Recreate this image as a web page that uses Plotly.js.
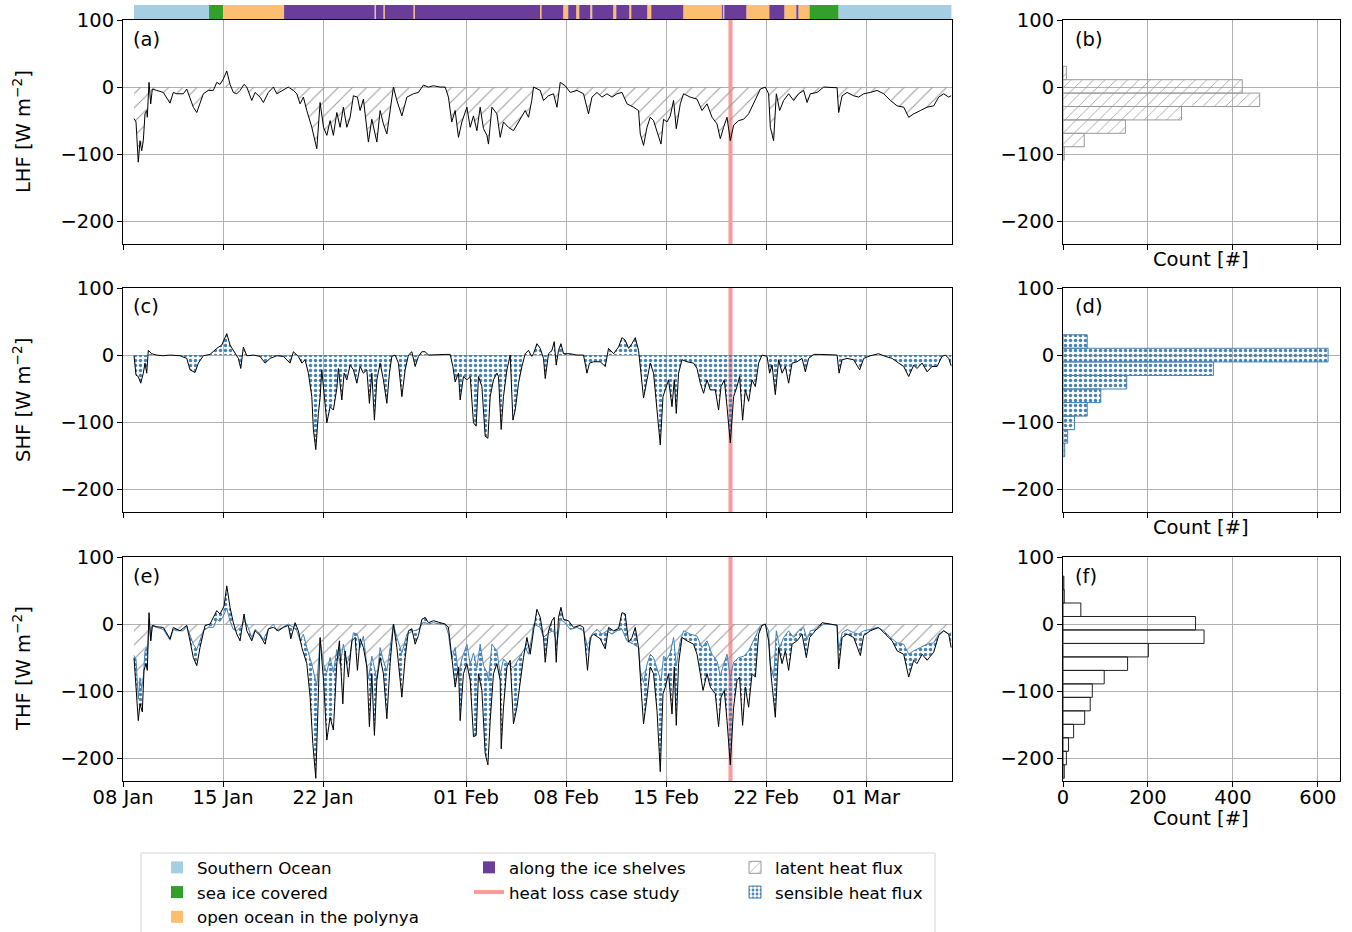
<!DOCTYPE html>
<html><head><meta charset="utf-8">
<script src="https://cdn.plot.ly/plotly-3.0.1.min.js"></script>
<style>html,body{margin:0;padding:0;background:#fff}#chart{width:1352px;height:932px}</style>
</head><body><div id="chart"></div>
<script>
// ---------- time reference (days since 08 Jan) ----------
const START = Date.UTC(2019, 0, 8);
function toDate(d){ return new Date(START + d*86400000).toISOString().replace('T',' ').slice(0,19); }

const tickDays   = [0, 7, 14, 24, 31, 38, 45, 52];
const tickLabels = ['08 Jan','15 Jan','22 Jan','01 Feb','08 Feb','15 Feb','22 Feb','01 Mar'];
const yTicks = [-200, -100, 0, 100];
const countTicks = [0, 200, 400, 600];
const caseStudyDay = 42.5;

// ---------- region strip ----------
const regionNames  = ['Southern Ocean','sea ice covered','open ocean in the polynya','along the ice shelves'];
const regionColors = ['#a6cee3','#33a02c','#fdbf6f','#6a3d9a'];
const segBounds = [0.77,6.02,7.00,11.27,17.60,17.70,18.22,18.32,20.32,20.42,
  29.18,29.28,30.80,31.15,31.71,31.92,32.69,32.83,34.30,34.51,
  35.42,35.56,36.68,36.96,39.20,41.90,41.97,42.07,43.61,45.22,
  46.27,47.11,47.25,48.02,50.05,57.96];
const segRegion = [0,1,2,3,2,3,2,3,2,3,2,3,2,3,2,3,2,3,2,3,2,3,2,3,2,3,2,3,2,3,2,3,2,1,0];

// ---------- latent heat flux ----------
const lhfDay = [0.77,0.91,1.07,1.19,1.31,1.42,1.54,1.66,1.70,1.82,
 1.94,2.05,2.36,2.82,3.29,3.52,3.76,4.22,4.46,4.69,
 4.92,5.16,5.39,5.62,5.97,6.32,6.56,6.79,7.02,7.26,
 7.49,7.72,7.96,8.19,8.47,8.66,9.01,9.24,9.59,9.82,
 10.17,10.52,10.76,11.22,11.57,11.92,12.16,12.39,12.62,12.86,
 13.21,13.56,13.79,14.03,14.26,14.49,14.72,14.96,15.19,15.42,
 15.66,15.89,16.12,16.40,16.59,16.82,17.17,17.41,17.76,17.99,
 18.22,18.46,18.69,18.92,19.16,19.51,19.86,20.32,20.67,21.02,
 21.37,21.72,22.19,22.54,22.77,23.00,23.24,23.47,23.71,24.06,
 24.29,24.52,24.76,24.99,25.22,25.46,25.57,25.81,26.16,26.39,
 26.62,26.97,27.32,27.79,28.14,28.37,28.60,28.72,29.19,29.42,
 29.77,30.12,30.36,30.59,30.94,31.29,31.76,32.22,32.57,32.81,
 33.16,33.51,33.86,34.21,34.56,34.91,35.26,35.72,36.07,36.19,
 36.42,36.66,36.89,37.12,37.36,37.64,37.82,38.06,38.29,38.52,
 38.71,38.99,39.22,39.69,40.16,40.51,40.86,41.21,41.56,41.79,
 42.02,42.26,42.49,42.72,43.07,43.42,43.77,44.12,44.59,44.94,
 45.17,45.29,45.52,45.71,45.94,46.22,46.57,46.92,47.27,47.62,
 47.86,48.09,48.56,49.02,49.49,49.96,50.07,50.31,50.66,51.12,
 51.47,51.82,52.29,52.76,53.22,53.69,54.16,54.62,54.97,55.32,
 55.79,56.25,56.72,57.07,57.42,57.77,57.94];
const lhfVal = [-47,-52,-112,-80,-95,-80,-40,-35,-45,7,
 -25,-3,-5,-8,-24,-8,-10,-10,-3,-15,
 -30,-38,-25,-10,-5,-5,7,4,12,24,
 4,-8,-10,-5,4,0,-20,-8,-15,-23,
 -8,0,-10,-5,0,-5,-10,-25,-15,-35,
 -60,-92,-23,-60,-72,-50,-72,-38,-60,-30,
 -60,-45,-13,-15,-35,-18,-82,-48,-82,-35,
 -55,-70,-35,0,-20,-43,-15,-10,-8,3,
 0,2,0,0,-15,-52,-35,-75,-52,-30,
 -60,-43,-65,-30,-62,-72,-85,-30,-40,-75,
 -52,-60,-65,-48,-35,-45,-20,0,-5,-20,
 -13,-10,-30,7,2,-8,-5,-10,-40,-15,
 -8,-15,-10,-15,-10,-8,-25,-30,-35,-70,
 -87,-60,-45,-50,-65,-85,-48,-52,-43,-20,
 -62,-25,-10,-15,-18,-35,-25,-45,-55,-77,
 -60,-45,-80,-57,-50,-48,-40,-25,-3,0,
 -10,-60,-80,-10,-35,-20,-10,-20,-10,-5,
 -23,-10,-8,0,0,-1,-38,-13,-8,-13,
 -15,-10,-8,-5,-10,-20,-28,-30,-45,-40,
 -35,-30,-28,-15,-10,-15,-13];

// ---------- sensible heat flux ----------
const shfDay = [0.77,0.91,1.07,1.24,1.42,1.54,1.66,1.77,2.01,2.36,
 2.82,3.29,3.99,4.46,4.69,5.04,5.27,5.62,6.09,6.56,
 6.91,7.26,7.49,7.84,8.07,8.24,8.42,8.66,9.12,9.59,
 9.94,10.29,10.76,11.22,11.69,11.92,12.27,12.51,12.74,12.97,
 13.21,13.32,13.49,13.67,13.79,13.91,14.07,14.26,14.49,14.72,
 14.96,15.07,15.31,15.47,15.66,15.89,16.12,16.36,16.59,16.82,
 17.06,17.24,17.41,17.59,17.76,17.99,18.22,18.46,18.64,18.81,
 19.04,19.27,19.51,19.74,19.97,20.21,20.44,20.67,20.91,21.14,
 21.37,21.96,22.54,22.89,23.08,23.24,23.47,23.59,23.82,24.06,
 24.29,24.52,24.71,24.87,25.11,25.34,25.53,25.69,25.92,26.16,
 26.27,26.46,26.62,26.86,27.09,27.28,27.44,27.56,27.67,27.91,
 28.14,28.37,28.60,28.72,28.96,29.19,29.42,29.54,29.77,30.01,
 30.17,30.31,30.47,30.64,30.82,31.29,31.76,32.22,32.46,32.64,
 32.92,33.39,33.74,33.97,34.32,34.67,34.91,35.14,35.37,35.61,
 35.84,36.07,36.31,36.42,36.66,36.89,37.12,37.36,37.59,37.78,
 37.94,38.17,38.41,38.57,38.71,38.87,39.11,39.46,39.92,40.16,
 40.39,40.62,40.86,41.09,41.44,41.67,41.84,42.07,42.26,42.49,
 42.72,42.96,43.14,43.35,43.54,43.77,44.01,44.24,44.47,44.71,
 45.06,45.24,45.41,45.64,45.87,46.11,46.34,46.57,46.81,47.16,
 47.51,47.74,47.97,48.32,48.79,49.49,49.96,50.10,50.31,50.66,
 51.12,51.54,51.82,52.29,52.87,53.34,53.81,54.27,54.62,54.97,
 55.32,55.55,55.91,56.26,56.60,56.96,57.30,57.54,57.77,57.94];
const shfVal = [-1,-30,-32,-42,-27,-12,-27,7,2,0,
 -1,0,-1,-5,-22,-26,-12,-1,1,10,
 15,32,15,2,-5,-20,12,-1,0,-2,
 -12,-5,-1,-2,-12,5,-2,-12,-7,-27,
 -62,-111,-141,-87,-64,-22,-62,-101,-77,-82,
 -50,-20,-67,-27,-37,-15,-22,-42,-17,-27,
 -22,-72,-27,-97,-37,-12,-37,-72,-27,-2,
 0,-12,-62,-22,0,5,-17,-2,5,5,
 0,1,1,1,-17,-40,-27,-67,-32,-37,
 -32,-101,-106,-32,-47,-121,-124,-62,-37,-27,
 -32,-111,-62,-22,0,-97,-82,-62,-42,-17,
 2,7,-2,2,17,10,-5,-35,2,7,
 20,-15,7,17,2,2,0,0,-27,-12,
 -10,-10,-17,10,2,12,26,22,10,17,
 26,7,-37,-64,-37,-12,-27,-77,-134,-62,
 -52,-37,-77,-37,-87,-27,-7,-10,-12,-20,
 -42,-57,-37,-52,-52,-82,-47,-37,-77,-131,
 -62,-47,-32,-97,-52,-69,-37,-47,-12,0,
 -2,-27,-15,-59,-7,-27,-17,-42,-12,-10,
 -5,-25,-5,1,1,0,0,-27,-7,-5,
 -7,-22,-5,-1,2,-2,-5,-12,-17,-32,
 -15,-20,-12,-25,-17,-17,-2,0,-5,-16];

// ---------- total heat flux ----------
const thfDay = [0.77,0.91,1.07,1.19,1.35,1.47,1.61,1.70,1.82,1.94,
 2.05,2.36,2.82,3.29,3.52,3.99,4.46,4.69,4.92,5.16,
 5.39,5.74,6.09,6.56,6.79,7.07,7.26,7.49,7.72,7.96,
 8.19,8.47,8.66,9.01,9.24,9.59,9.94,10.17,10.52,10.87,
 11.22,11.57,11.74,12.04,12.27,12.51,12.86,13.09,13.28,13.49,
 13.67,13.79,14.03,14.26,14.49,14.72,14.96,15.14,15.38,15.54,
 15.77,16.01,16.24,16.40,16.59,16.82,17.06,17.24,17.41,17.59,
 17.76,17.99,18.22,18.46,18.69,18.92,19.16,19.51,19.74,19.97,
 20.21,20.44,20.67,20.91,21.14,21.37,21.72,22.19,22.54,22.77,
 23.00,23.24,23.47,23.59,23.82,24.06,24.29,24.52,24.71,24.87,
 25.11,25.34,25.53,25.69,25.92,26.16,26.39,26.46,26.62,26.86,
 27.09,27.32,27.56,27.79,28.02,28.26,28.49,28.72,28.96,29.19,
 29.42,29.54,29.77,30.01,30.17,30.31,30.47,30.64,30.82,31.17,
 31.52,31.99,32.22,32.50,32.69,32.92,33.39,33.74,33.97,34.32,
 34.67,34.91,35.14,35.37,35.61,35.84,36.07,36.24,36.42,36.66,
 36.89,37.12,37.36,37.59,37.78,37.94,38.17,38.41,38.57,38.71,
 38.87,39.11,39.46,39.92,40.16,40.39,40.58,40.86,41.09,41.44,
 41.67,41.84,42.07,42.26,42.49,42.72,42.96,43.14,43.35,43.54,
 43.77,44.01,44.24,44.47,44.71,44.94,45.17,45.33,45.64,45.87,
 46.11,46.34,46.57,46.81,47.16,47.51,47.81,48.04,48.44,48.91,
 49.49,49.96,50.07,50.31,50.66,51.12,51.59,51.82,52.29,52.87,
 53.34,53.81,54.16,54.62,54.97,55.32,55.55,55.91,56.26,56.72,
 57.07,57.42,57.77,57.94];
const thfVal = [-50,-99,-144,-119,-131,-69,-59,-69,17,-25,
 -2,-4,-5,-22,-5,-10,-2,-25,-50,-62,
 -35,-2,0,20,15,27,57,25,2,-15,
 -25,15,-10,-25,-10,-17,-30,-7,-5,-10,
 -5,-2,-22,2,-10,-35,-59,-109,-178,-230,
 -84,-20,-84,-173,-139,-158,-59,-25,-119,-40,
 -79,-25,-20,-69,-22,-35,-64,-153,-74,-166,
 -84,-50,-74,-141,-59,0,-35,-109,-50,-10,
 -7,-30,-17,7,10,2,5,2,0,-5,
 -50,-94,-64,-144,-74,-59,-84,-168,-166,-74,
 -99,-193,-210,-144,-74,-59,-84,-186,-124,-64,
 -54,-149,-124,-84,-50,-20,-45,-10,22,10,
 -20,-57,-10,5,10,-57,10,25,7,5,
 -5,-2,-5,-69,-20,-15,-22,-37,-5,-10,
 -7,17,15,-27,-20,-5,-35,-94,-149,-109,
 -64,-74,-129,-220,-104,-94,-74,-134,-64,-151,
 -59,-20,-25,-30,-45,-74,-99,-74,-94,-104,
 -153,-109,-99,-144,-210,-124,-84,-79,-151,-94,
 -124,-74,-79,-15,-2,0,-25,-74,-139,-35,
 -59,-40,-69,-30,-25,-15,-50,-20,-10,2,
 0,-2,-67,-20,-15,-20,-47,-17,-10,-5,
 -15,-25,-40,-45,-79,-54,-59,-45,-54,-42,
 -17,-10,-15,-35];

// ---------- histograms (bin edges top->bottom, counts) ----------
const lhfEdges = [31, 11, -9, -29, -49, -69, -89, -109];
const lhfCounts = [8, 422, 463, 279, 147, 50, 3];
const shfEdges = [30.3, 10.1, -10.2, -30.4, -50.6, -70.8, -91.0, -111.2, -131.4, -151.6];
const shfCounts = [57, 624, 354, 150, 89, 57, 27, 11, 4];
const thfEdges = [71.6, 51.5, 31.4, 11.3, -8.8, -28.9, -49.0, -69.1, -89.2, -109.3, -129.4, -149.5, -169.6, -189.7, -209.8, -229.9];
const thfCounts = [2, 3, 42, 312, 332, 201, 152, 97, 69, 64, 51, 25, 13, 8, 3];

// ---------- helpers ----------
const W = 1352, H = 932;
const px = v => v / W, py = v => 1 - v / H;
const centers = e => e.slice(0, -1).map((v, i) => (v + e[i + 1]) / 2);
const widths  = e => e.slice(0, -1).map((v, i) => Math.abs(v - e[i + 1]));
const YR = [-234, 100];
const BLUE = '#4682b4';
const hatch = {shape:'/', fgcolor:'#999999', bgcolor:'rgba(0,0,0,0)', size:10, solidity:0.1};
const dots  = {shape:'.', fgcolor:BLUE, bgcolor:'rgba(0,0,0,0)', size:5, solidity:0.38};

const traces = [];
// strip
regionNames.forEach((name, r) => {
  const idx = segRegion.map((g, i) => g === r ? i : -1).filter(i => i >= 0);
  traces.push({type:'bar', orientation:'h', xaxis:'x7', yaxis:'y7', name,
    y: idx.map(() => 0), base: idx.map(i => toDate(segBounds[i])),
    x: idx.map(i => (segBounds[i + 1] - segBounds[i]) * 86400000),
    width: 1, marker:{color: regionColors[r], line:{width:0}},
    legend: r === 3 ? 'legend2' : 'legend', legendrank: r === 3 ? 1 : r + 1,
    hoverinfo:'skip'});
});
// case study line
[['x','y'],['x3','y3'],['x5','y5']].forEach((a, k) => {
  traces.push({type:'scatter', mode:'lines', xaxis:a[0], yaxis:a[1],
    x:[toDate(caseStudyDay), toDate(caseStudyDay)], y: YR,
    line:{color:'#fb9a99', width:4}, name:'heat loss case study',
    legend:'legend2', legendrank:2, showlegend: k === 0, hoverinfo:'skip'});
});
// panel a
traces.push({type:'scatter', mode:'lines', xaxis:'x', yaxis:'y', x: lhfDay.map(toDate), y: lhfVal,
  line:{color:'black', width:1}, fill:'tozeroy', fillcolor:'rgba(0,0,0,0)', fillpattern:hatch, showlegend:false});
// panel c
traces.push({type:'scatter', mode:'lines', xaxis:'x3', yaxis:'y3', x: shfDay.map(toDate), y: shfVal,
  line:{color:'black', width:1}, fill:'tozeroy', fillcolor:'rgba(0,0,0,0)', fillpattern:dots, showlegend:false});
// panel e
traces.push({type:'scatter', mode:'lines', xaxis:'x5', yaxis:'y5', x: lhfDay.map(toDate), y: lhfVal,
  line:{color:BLUE, width:1}, fill:'tozeroy', fillcolor:'rgba(0,0,0,0)', fillpattern:hatch, showlegend:false});
traces.push({type:'scatter', mode:'lines', xaxis:'x5', yaxis:'y5', x: thfDay.map(toDate), y: thfVal,
  line:{color:'black', width:1}, fill:'tonexty', fillcolor:'rgba(0,0,0,0)', fillpattern:dots, showlegend:false});
// histograms
traces.push({type:'bar', orientation:'h', xaxis:'x2', yaxis:'y2', y: centers(lhfEdges), x: lhfCounts, width: widths(lhfEdges),
  marker:{color:'rgba(0,0,0,0)', line:{color:'#999999', width:1}, pattern:{shape:'/', fgcolor:'#999999', bgcolor:'rgba(0,0,0,0)', size:8, solidity:0.1}},
  name:'latent heat flux', legend:'legend3', legendrank:1});
traces.push({type:'bar', orientation:'h', xaxis:'x4', yaxis:'y4', y: centers(shfEdges), x: shfCounts, width: widths(shfEdges),
  marker:{color:'rgba(0,0,0,0)', line:{color:BLUE, width:1}, pattern:dots},
  name:'sensible heat flux', legend:'legend3', legendrank:2});
traces.push({type:'bar', orientation:'h', xaxis:'x6', yaxis:'y6', y: centers(thfEdges), x: thfCounts, width: widths(thfEdges),
  marker:{color:'rgba(0,0,0,0)', line:{color:'#222222', width:1}}, showlegend:false});

// ---------- axes ----------
const base = {showline:true, linecolor:'black', linewidth:1, mirror:true, ticks:'outside', ticklen:5,
  tickcolor:'black', tickwidth:1, showgrid:true, gridcolor:'#b0b0b0', gridwidth:1, zeroline:false,
  tickfont:{size:19.5, color:'black'}};
const LX = [px(123), px(952)], RX = [px(1063), px(1340)];
const rows = [[py(244), py(20)], [py(512), py(288)], [py(781), py(557)]];
function timeX(anchor, labels){ return Object.assign({}, base, {type:'date', domain:LX, anchor,
  range:[toDate(0), toDate(58)], tickvals: tickDays.map(toDate), ticktext: tickLabels, showticklabels: labels, ticklabelstandoff:-6}); }
function countX(anchor, labels){ return Object.assign({}, base, {domain:RX, anchor, range:[0, 652],
  tickvals: countTicks, showticklabels: labels, ticklabelstandoff:-6}); }
function valY(anchor, row){ return Object.assign({}, base, {domain:rows[row], anchor, range:YR, tickvals:yTicks, ticklabelstandoff:-1}); }

const ann = [];
const lab = (t, x, y) => ann.push({text:t, x:px(x), y:py(y), xref:'paper', yref:'paper', xanchor:'left', yanchor:'middle', showarrow:false, font:{size:19.5}});
lab('(a)', 131, 40); lab('(b)', 1073, 40); lab('(c)', 131, 307); lab('(d)', 1073, 307); lab('(e)', 131, 576); lab('(f)', 1073, 576);
const ytitle = (t, y) => ann.push({text:t, x:px(22), y:py(y), xref:'paper', yref:'paper', textangle:-90, xanchor:'center', yanchor:'middle', showarrow:false, font:{size:19.5}});
ytitle('LHF [W m<sup>−2</sup>]', 132); ytitle('SHF [W m<sup>−2</sup>]', 400); ytitle('THF [W m<sup>−2</sup>]', 669);
const xtitle = y => ann.push({text:'Count [#]', x:px(1201), y:py(y), xref:'paper', yref:'paper', xanchor:'center', yanchor:'middle', showarrow:false, font:{size:19.5}});
xtitle(259); xtitle(527); xtitle(818);

const leg = x => ({x:px(x), y:py(850), xanchor:'left', yanchor:'top', bgcolor:'rgba(0,0,0,0)', borderwidth:0, font:{size:16.7, color:'black'}, orientation:'v', traceorder:'normal'});

const layout = {
  width:W, height:H, margin:{l:0, r:0, t:0, b:0, autoexpand:false}, paper_bgcolor:'white', plot_bgcolor:'rgba(0,0,0,0)',
  font:{family:'DejaVu Sans', size:19.5, color:'black'}, barmode:'overlay', hovermode:false, showlegend:true,
  xaxis: timeX('y', false), yaxis: valY('x', 0),
  xaxis3: timeX('y3', false), yaxis3: valY('x3', 1),
  xaxis5: timeX('y5', true), yaxis5: valY('x5', 2),
  xaxis2: countX('y2', false), yaxis2: valY('x2', 0),
  xaxis4: countX('y4', false), yaxis4: valY('x4', 1),
  xaxis6: countX('y6', true), yaxis6: valY('x6', 2),
  xaxis7: {type:'date', domain:LX, anchor:'y7', range:[toDate(0), toDate(58)], visible:false},
  yaxis7: {domain:[py(19), py(5)], anchor:'x7', range:[-0.5, 0.5], visible:false},
  legend: leg(157), legend2: leg(469), legend3: leg(735),
  shapes:[{type:'rect', xref:'paper', yref:'paper', x0:px(141), x1:px(935), y0:py(945), y1:py(853),
    line:{color:'#d5d5d5', width:1}, fillcolor:'rgba(0,0,0,0)', layer:'below'}],
  annotations: ann
};

Plotly.newPlot('chart', traces, layout, {displayModeBar:false, staticPlot:true});
</script>
</body></html>
